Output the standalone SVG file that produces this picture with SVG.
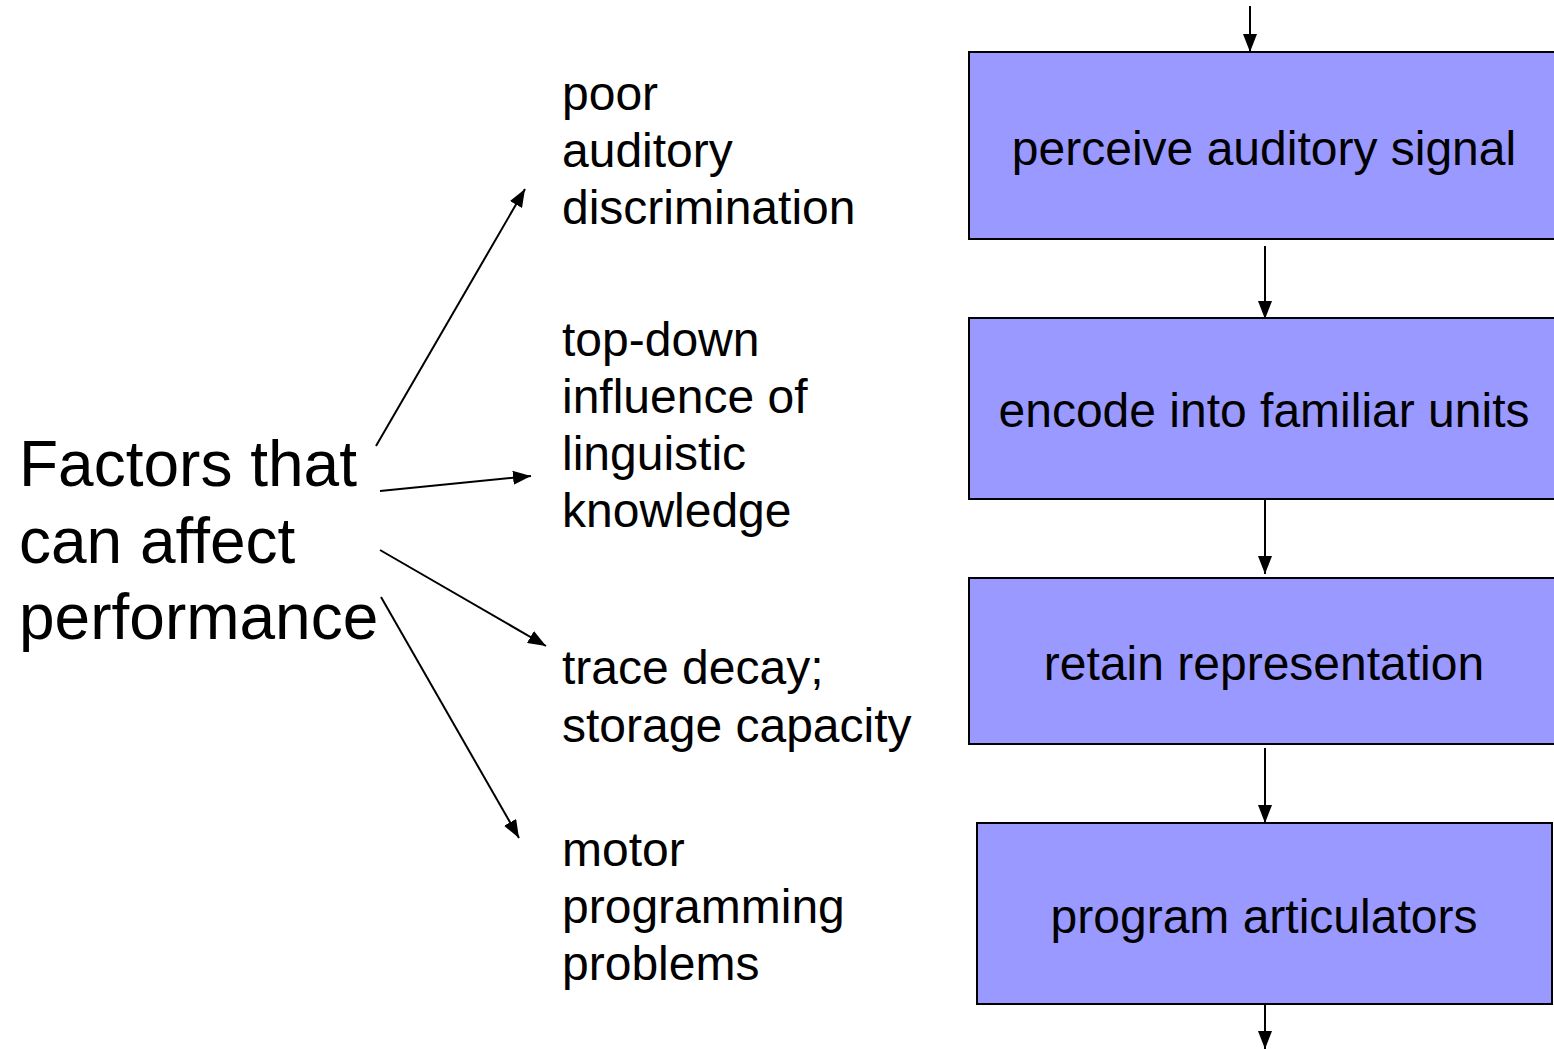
<svg xmlns="http://www.w3.org/2000/svg" width="1554" height="1049" viewBox="0 0 1554 1049">
<style>
.box{fill:#9999FF;stroke:#000;stroke-width:2}
.bt{font-family:"Liberation Sans",Arial,sans-serif;font-size:48px;fill:#000;text-anchor:middle}
.ft{font-family:"Liberation Sans",Arial,sans-serif;font-size:48px;fill:#000}
.big{font-family:"Liberation Sans",Arial,sans-serif;font-size:64px;fill:#000}
.c{stroke:#000;stroke-width:2;fill:none;marker-end:url(#ah)}
</style>
<defs>
<marker id="ah" markerUnits="userSpaceOnUse" markerWidth="20" markerHeight="14" refX="18" refY="7" orient="auto">
<path d="M0,0 L18,7 L0,14 Z" fill="#000"/>
</marker>
</defs>
<rect width="1554" height="1049" fill="#fff"/>
<g id="connectors">
<line class="c" x1="1250" y1="6" x2="1250" y2="52"/>
<line class="c" x1="1265" y1="246" x2="1265" y2="319"/>
<line class="c" x1="1265" y1="499" x2="1265" y2="574"/>
<line class="c" x1="1265" y1="748" x2="1265" y2="823"/>
<line class="c" x1="1265" y1="1005" x2="1265" y2="1049"/>
<line class="c" x1="376" y1="446" x2="525" y2="189"/>
<line class="c" x1="380" y1="491" x2="531" y2="476"/>
<line class="c" x1="380" y1="550" x2="546" y2="646"/>
<line class="c" x1="381" y1="597" x2="519" y2="838"/>
</g>
<g id="perceive">
<rect class="box" x="969" y="52" width="620" height="187"/>
<text class="bt" x="1264" y="165">perceive auditory signal</text>
</g>
<g id="encode">
<rect class="box" x="969" y="318" width="620" height="181"/>
<text class="bt" x="1264" y="427">encode into familiar units</text>
</g>
<g id="retain">
<rect class="box" x="969" y="578" width="620" height="166"/>
<text class="bt" x="1264" y="680">retain representation</text>
</g>
<g id="program">
<rect class="box" x="977" y="823" width="575" height="181"/>
<text class="bt" x="1264" y="933">program articulators</text>
</g>
<g id="factors">
<text class="big" x="19" y="486">Factors that</text>
<text class="big" x="19" y="563">can affect</text>
<text class="big" x="19" y="639">performance</text>
</g>
<g id="f-auditory">
<text class="ft" x="562" y="110">poor</text>
<text class="ft" x="562" y="167">auditory</text>
<text class="ft" x="562" y="224">discrimination</text>
</g>
<g id="f-topdown">
<text class="ft" x="562" y="356">top-down</text>
<text class="ft" x="562" y="413">influence of</text>
<text class="ft" x="562" y="470">linguistic</text>
<text class="ft" x="562" y="527">knowledge</text>
</g>
<g id="f-trace">
<text class="ft" x="562" y="684">trace decay;</text>
<text class="ft" x="562" y="742">storage capacity</text>
</g>
<g id="f-motor">
<text class="ft" x="562" y="866">motor</text>
<text class="ft" x="562" y="923">programming</text>
<text class="ft" x="562" y="980">problems</text>
</g>
</svg>
